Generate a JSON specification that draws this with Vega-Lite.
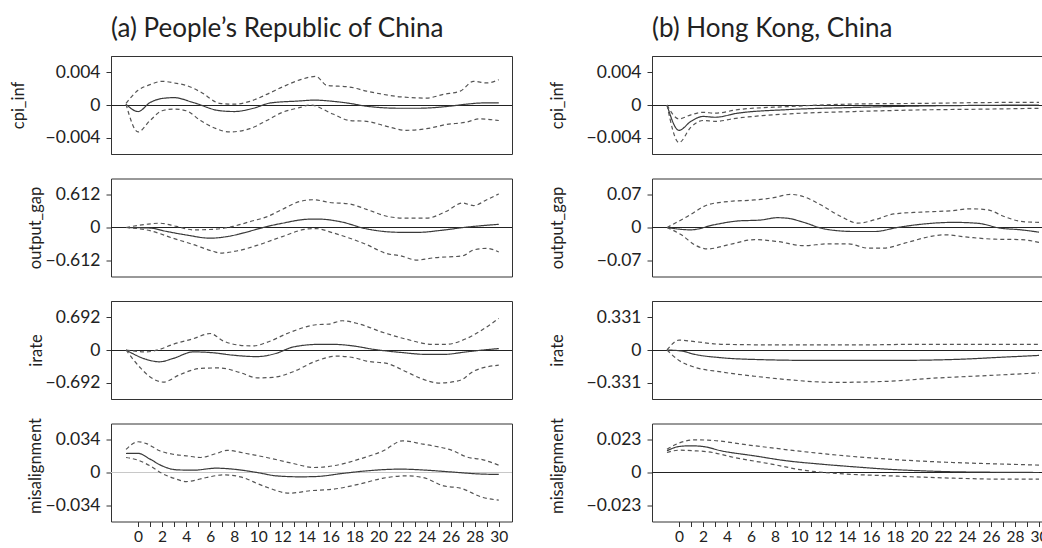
{
  "$schema": "https://vega.github.io/schema/vega-lite/v6.json",
  "padding": {"left": 9, "top": 15, "right": 0, "bottom": 0},
  "background": "white",
  "bounds": "flush",
  "columns": 2,
  "spacing": {"row": 24.5, "column": 140},
  "config": {
    "font": "Lato",
    "view": {"stroke": "#333", "strokeWidth": 1},
    "axis": {"labelFont": "Lato", "labelColor": "#222", "tickColor": "#333", "tickSize": 5, "grid": false, "titleFont": "Lato", "titleFontSize": 16.5, "titleFontWeight": "normal", "titleColor": "#222"},
    "axisY": {"labelFontSize": 17.5, "titleAngle": -90, "titleAlign": "center", "titleBaseline": "alphabetic", "labelPadding": 6, "domain": true, "domainColor": "#333", "domainWidth": 1, "format": ".3~f"},
    "axisX": {"labelFontSize": 15.5, "domain": false, "labelPadding": 3},
    "title": {"anchor": "start", "frame": "group", "fontSize": 26, "fontWeight": "normal", "color": "#222", "font": "Lato", "baseline": "alphabetic", "offset": 14},
    "line": {"interpolate": "monotone", "strokeWidth": 1.2},
    "rule": {"color": "#222", "strokeWidth": 1}
  },
  "datasets": {
    "a_cpi": [
      {"s":"m","x":-1,"y":0.0001},{"s":"m","x":0,"y":-0.0008},{"s":"m","x":1,"y":0.0003},{"s":"m","x":2,"y":0.0008},{"s":"m","x":3,"y":0.0009},{"s":"m","x":4.6,"y":0.0003},{"s":"m","x":6.8,"y":-0.0007},{"s":"m","x":8,"y":-0.0008},{"s":"m","x":9.6,"y":-0.0004},{"s":"m","x":11,"y":0.00025},{"s":"m","x":13.5,"y":0.0005},{"s":"m","x":14.6,"y":0.0006},{"s":"m","x":16.2,"y":0.00045},{"s":"m","x":17.6,"y":0.0002},{"s":"m","x":19,"y":-0.00015},{"s":"m","x":21.8,"y":-0.0004},{"s":"m","x":23.2,"y":-0.0004},{"s":"m","x":25.9,"y":-0.00015},{"s":"m","x":27.3,"y":0.0001},{"s":"m","x":28.7,"y":0.00025},{"s":"m","x":30,"y":0.00025},
      {"s":"hi","x":-1,"y":0.0002},{"s":"hi","x":0,"y":0.0018},{"s":"hi","x":1,"y":0.0025},{"s":"hi","x":2,"y":0.0029},{"s":"hi","x":3,"y":0.0027},{"s":"hi","x":4,"y":0.0024},{"s":"hi","x":5.2,"y":0.0016},{"s":"hi","x":6.8,"y":0.0002},{"s":"hi","x":8,"y":0.0001},{"s":"hi","x":9.3,"y":0.00045},{"s":"hi","x":10.7,"y":0.0013},{"s":"hi","x":12,"y":0.0022},{"s":"hi","x":13.5,"y":0.0031},{"s":"hi","x":14.8,"y":0.0035},{"s":"hi","x":15.7,"y":0.0024},{"s":"hi","x":17.6,"y":0.0022},{"s":"hi","x":19,"y":0.0017},{"s":"hi","x":20.4,"y":0.0013},{"s":"hi","x":21.8,"y":0.001},{"s":"hi","x":24,"y":0.00085},{"s":"hi","x":25.4,"y":0.0013},{"s":"hi","x":26.8,"y":0.0017},{"s":"hi","x":27.9,"y":0.0029},{"s":"hi","x":29,"y":0.0027},{"s":"hi","x":30,"y":0.0031},
      {"s":"lo","x":-1,"y":0.0001},{"s":"lo","x":0,"y":-0.0033},{"s":"lo","x":1,"y":-0.0019},{"s":"lo","x":2,"y":-0.0007},{"s":"lo","x":3,"y":-0.0005},{"s":"lo","x":4,"y":-0.0007},{"s":"lo","x":5.2,"y":-0.0019},{"s":"lo","x":6.5,"y":-0.0029},{"s":"lo","x":7.6,"y":-0.0033},{"s":"lo","x":9.3,"y":-0.0029},{"s":"lo","x":10.7,"y":-0.0019},{"s":"lo","x":12,"y":-0.0009},{"s":"lo","x":13.5,"y":-0.0003},{"s":"lo","x":14.3,"y":0},{"s":"lo","x":16.2,"y":-0.0011},{"s":"lo","x":17.6,"y":-0.0019},{"s":"lo","x":19,"y":-0.002},{"s":"lo","x":20.4,"y":-0.0025},{"s":"lo","x":22.3,"y":-0.0031},{"s":"lo","x":24,"y":-0.0029},{"s":"lo","x":25.6,"y":-0.0024},{"s":"lo","x":27.3,"y":-0.0021},{"s":"lo","x":28.4,"y":-0.0017},{"s":"lo","x":30,"y":-0.0019}
    ],
    "a_og": [
      {"s":"m","x":-1,"y":0},{"s":"m","x":1,"y":-0.01},{"s":"m","x":2.4,"y":-0.075},{"s":"m","x":4,"y":-0.14},{"s":"m","x":6,"y":-0.2},{"s":"m","x":7.4,"y":-0.17},{"s":"m","x":8.8,"y":-0.1},{"s":"m","x":10.4,"y":0},{"s":"m","x":12,"y":0.08},{"s":"m","x":14.3,"y":0.156},{"s":"m","x":15.1,"y":0.156},{"s":"m","x":16.8,"y":0.11},{"s":"m","x":19,"y":-0.025},{"s":"m","x":21.8,"y":-0.09},{"s":"m","x":23.4,"y":-0.09},{"s":"m","x":25.1,"y":-0.056},{"s":"m","x":27.3,"y":0.006},{"s":"m","x":30,"y":0.06},
      {"s":"hi","x":-1,"y":0},{"s":"hi","x":0.7,"y":0.06},{"s":"hi","x":1.8,"y":0.08},{"s":"hi","x":3.2,"y":0.02},{"s":"hi","x":4.6,"y":-0.044},{"s":"hi","x":6.5,"y":-0.03},{"s":"hi","x":7.9,"y":0.02},{"s":"hi","x":9.3,"y":0.11},{"s":"hi","x":10.7,"y":0.2},{"s":"hi","x":12,"y":0.34},{"s":"hi","x":13.5,"y":0.49},{"s":"hi","x":14.6,"y":0.52},{"s":"hi","x":15.9,"y":0.47},{"s":"hi","x":17.6,"y":0.44},{"s":"hi","x":19,"y":0.34},{"s":"hi","x":20.9,"y":0.2},{"s":"hi","x":22.3,"y":0.175},{"s":"hi","x":24,"y":0.175},{"s":"hi","x":25.6,"y":0.3},{"s":"hi","x":27,"y":0.46},{"s":"hi","x":27.9,"y":0.41},{"s":"hi","x":29,"y":0.52},{"s":"hi","x":30,"y":0.63},
      {"s":"lo","x":-1,"y":0},{"s":"lo","x":1,"y":-0.06},{"s":"lo","x":2.9,"y":-0.2},{"s":"lo","x":4.6,"y":-0.32},{"s":"lo","x":6.3,"y":-0.45},{"s":"lo","x":6.8,"y":-0.48},{"s":"lo","x":8.2,"y":-0.44},{"s":"lo","x":10.1,"y":-0.32},{"s":"lo","x":12,"y":-0.17},{"s":"lo","x":14,"y":-0.03},{"s":"lo","x":14.8,"y":-0.02},{"s":"lo","x":16.2,"y":-0.1},{"s":"lo","x":19,"y":-0.32},{"s":"lo","x":20.7,"y":-0.49},{"s":"lo","x":21.8,"y":-0.53},{"s":"lo","x":23.2,"y":-0.61},{"s":"lo","x":24.5,"y":-0.57},{"s":"lo","x":27,"y":-0.53},{"s":"lo","x":27.9,"y":-0.42},{"s":"lo","x":29,"y":-0.39},{"s":"lo","x":30,"y":-0.46}
    ],
    "a_ir": [
      {"s":"m","x":-1,"y":0},{"s":"m","x":0.7,"y":-0.2},{"s":"m","x":1.8,"y":-0.25},{"s":"m","x":2.9,"y":-0.18},{"s":"m","x":4.6,"y":-0.04},{"s":"m","x":6.3,"y":-0.06},{"s":"m","x":7.9,"y":-0.11},{"s":"m","x":9.9,"y":-0.14},{"s":"m","x":11.5,"y":-0.07},{"s":"m","x":12.9,"y":0.064},{"s":"m","x":15.1,"y":0.12},{"s":"m","x":16.2,"y":0.12},{"s":"m","x":17.9,"y":0.086},{"s":"m","x":19.6,"y":0.014},{"s":"m","x":21.8,"y":-0.05},{"s":"m","x":24,"y":-0.093},{"s":"m","x":25.4,"y":-0.093},{"s":"m","x":27.3,"y":-0.04},{"s":"m","x":28.7,"y":0},{"s":"m","x":30,"y":0.03},
      {"s":"hi","x":-1,"y":0},{"s":"hi","x":0.7,"y":-0.04},{"s":"hi","x":1.8,"y":0.014},{"s":"hi","x":2.9,"y":0.12},{"s":"hi","x":4.6,"y":0.24},{"s":"hi","x":6,"y":0.35},{"s":"hi","x":7.1,"y":0.19},{"s":"hi","x":8.5,"y":0.1},{"s":"hi","x":9.6,"y":0.086},{"s":"hi","x":10.7,"y":0.16},{"s":"hi","x":12.6,"y":0.37},{"s":"hi","x":14.8,"y":0.535},{"s":"hi","x":15.9,"y":0.55},{"s":"hi","x":17,"y":0.62},{"s":"hi","x":18.4,"y":0.55},{"s":"hi","x":20.4,"y":0.37},{"s":"hi","x":22.3,"y":0.23},{"s":"hi","x":24.5,"y":0.12},{"s":"hi","x":25.6,"y":0.12},{"s":"hi","x":27.3,"y":0.24},{"s":"hi","x":28.7,"y":0.44},{"s":"hi","x":30,"y":0.67},
      {"s":"lo","x":-1,"y":0},{"s":"lo","x":0.2,"y":-0.38},{"s":"lo","x":1,"y":-0.57},{"s":"lo","x":2.1,"y":-0.68},{"s":"lo","x":3.5,"y":-0.52},{"s":"lo","x":5.2,"y":-0.39},{"s":"lo","x":6.8,"y":-0.38},{"s":"lo","x":8.5,"y":-0.48},{"s":"lo","x":9.9,"y":-0.59},{"s":"lo","x":11.2,"y":-0.58},{"s":"lo","x":12.9,"y":-0.46},{"s":"lo","x":14.8,"y":-0.235},{"s":"lo","x":16.5,"y":-0.13},{"s":"lo","x":17.9,"y":-0.16},{"s":"lo","x":19,"y":-0.235},{"s":"lo","x":20.7,"y":-0.285},{"s":"lo","x":22.3,"y":-0.46},{"s":"lo","x":23.4,"y":-0.59},{"s":"lo","x":25.1,"y":-0.7},{"s":"lo","x":26.8,"y":-0.64},{"s":"lo","x":27.9,"y":-0.45},{"s":"lo","x":30,"y":-0.32}
    ],
    "a_mis": [
      {"s":"m","x":-1,"y":0.0198},{"s":"m","x":0,"y":0.02},{"s":"m","x":1,"y":0.0139},{"s":"m","x":2,"y":0.0069},{"s":"m","x":3.2,"y":0.0028},{"s":"m","x":4.6,"y":0.0024},{"s":"m","x":6.5,"y":0.0045},{"s":"m","x":7.9,"y":0.0035},{"s":"m","x":9.9,"y":0},{"s":"m","x":11.5,"y":-0.0035},{"s":"m","x":13.5,"y":-0.0045},{"s":"m","x":14.8,"y":-0.0042},{"s":"m","x":17,"y":-0.001},{"s":"m","x":19,"y":0.0017},{"s":"m","x":21.8,"y":0.0035},{"s":"m","x":24,"y":0.0024},{"s":"m","x":25.9,"y":0.0007},{"s":"m","x":28.7,"y":-0.0017},{"s":"m","x":30,"y":-0.002},
      {"s":"hi","x":-1,"y":0.024},{"s":"hi","x":0,"y":0.032},{"s":"hi","x":0.7,"y":0.03},{"s":"hi","x":1.8,"y":0.0226},{"s":"hi","x":2.9,"y":0.019},{"s":"hi","x":4,"y":0.0174},{"s":"hi","x":5.2,"y":0.0156},{"s":"hi","x":6.5,"y":0.0198},{"s":"hi","x":7.4,"y":0.023},{"s":"hi","x":9,"y":0.0198},{"s":"hi","x":10.7,"y":0.0156},{"s":"hi","x":12.9,"y":0.0094},{"s":"hi","x":14.6,"y":0.0052},{"s":"hi","x":16.2,"y":0.0069},{"s":"hi","x":18.4,"y":0.0139},{"s":"hi","x":20.4,"y":0.0226},{"s":"hi","x":22,"y":0.033},{"s":"hi","x":23.7,"y":0.0295},{"s":"hi","x":24.5,"y":0.0278},{"s":"hi","x":26.2,"y":0.0226},{"s":"hi","x":27.3,"y":0.0163},{"s":"hi","x":28.7,"y":0.0132},{"s":"hi","x":30,"y":0.0076},
      {"s":"lo","x":-1,"y":0.0156},{"s":"lo","x":0,"y":0.0128},{"s":"lo","x":1,"y":0.0069},{"s":"lo","x":2,"y":-0.001},{"s":"lo","x":3.2,"y":-0.0069},{"s":"lo","x":4,"y":-0.0094},{"s":"lo","x":5.7,"y":-0.0052},{"s":"lo","x":7.1,"y":-0.0024},{"s":"lo","x":8.5,"y":-0.0045},{"s":"lo","x":10.4,"y":-0.0139},{"s":"lo","x":12.6,"y":-0.0215},{"s":"lo","x":14.3,"y":-0.019},{"s":"lo","x":16.2,"y":-0.0174},{"s":"lo","x":18.4,"y":-0.0121},{"s":"lo","x":20.4,"y":-0.0059},{"s":"lo","x":22.3,"y":-0.0035},{"s":"lo","x":23.7,"y":-0.0052},{"s":"lo","x":25.4,"y":-0.0139},{"s":"lo","x":26.8,"y":-0.0163},{"s":"lo","x":28.7,"y":-0.026},{"s":"lo","x":30,"y":-0.0288}
    ],
    "b_cpi": [
      {"s":"m","x":-1,"y":0},{"s":"m","x":0,"y":-0.0031},{"s":"m","x":1,"y":-0.002},{"s":"m","x":2,"y":-0.0014},{"s":"m","x":3,"y":-0.0015},{"s":"m","x":4.9,"y":-0.001},{"s":"m","x":9,"y":-0.00057},{"s":"m","x":14.6,"y":-0.0003},{"s":"m","x":20.2,"y":-0.00012},{"s":"m","x":25.7,"y":-0.00004},{"s":"m","x":30,"y":0},
      {"s":"hi","x":-1,"y":0},{"s":"hi","x":0,"y":-0.0017},{"s":"hi","x":1,"y":-0.0012},{"s":"hi","x":2,"y":-0.0009},{"s":"hi","x":3,"y":-0.001},{"s":"hi","x":4.9,"y":-0.00057},{"s":"hi","x":9,"y":-0.0002},{"s":"hi","x":14.6,"y":0.00012},{"s":"hi","x":20.2,"y":0.0002},{"s":"hi","x":25.7,"y":0.0003},{"s":"hi","x":30,"y":0.00033},
      {"s":"lo","x":-1,"y":0},{"s":"lo","x":0,"y":-0.0046},{"s":"lo","x":1,"y":-0.0027},{"s":"lo","x":2,"y":-0.0019},{"s":"lo","x":3,"y":-0.002},{"s":"lo","x":4.9,"y":-0.0016},{"s":"lo","x":9,"y":-0.0011},{"s":"lo","x":14.6,"y":-0.0008},{"s":"lo","x":20.2,"y":-0.0006},{"s":"lo","x":25.7,"y":-0.0005},{"s":"lo","x":30,"y":-0.0004}
    ],
    "b_og": [
      {"s":"m","x":-1,"y":0},{"s":"m","x":1,"y":-0.005},{"s":"m","x":2.9,"y":0.0057},{"s":"m","x":4.9,"y":0.014},{"s":"m","x":6.8,"y":0.016},{"s":"m","x":8.2,"y":0.021},{"s":"m","x":9,"y":0.02},{"s":"m","x":10.4,"y":0.011},{"s":"m","x":12.1,"y":-0.003},{"s":"m","x":14.6,"y":-0.0086},{"s":"m","x":16.3,"y":-0.0086},{"s":"m","x":18.2,"y":0},{"s":"m","x":20.2,"y":0.007},{"s":"m","x":22.9,"y":0.011},{"s":"m","x":24.9,"y":0.009},{"s":"m","x":26.8,"y":-0.0014},{"s":"m","x":28.5,"y":-0.005},{"s":"m","x":30,"y":-0.01},
      {"s":"hi","x":-1,"y":0},{"s":"hi","x":0.7,"y":0.0236},{"s":"hi","x":2.4,"y":0.0486},{"s":"hi","x":4.1,"y":0.0557},{"s":"hi","x":6.3,"y":0.059},{"s":"hi","x":7.9,"y":0.064},{"s":"hi","x":9.3,"y":0.071},{"s":"hi","x":10.4,"y":0.066},{"s":"hi","x":11.8,"y":0.0486},{"s":"hi","x":13.5,"y":0.0236},{"s":"hi","x":14.9,"y":0.0093},{"s":"hi","x":16.3,"y":0.0164},{"s":"hi","x":17.9,"y":0.029},{"s":"hi","x":20.2,"y":0.033},{"s":"hi","x":22.7,"y":0.036},{"s":"hi","x":24.3,"y":0.04},{"s":"hi","x":25.7,"y":0.038},{"s":"hi","x":27.1,"y":0.0236},{"s":"hi","x":28.5,"y":0.013},{"s":"hi","x":30,"y":0.011},
      {"s":"lo","x":-1,"y":0},{"s":"lo","x":0.2,"y":-0.0157},{"s":"lo","x":1.3,"y":-0.037},{"s":"lo","x":2.4,"y":-0.046},{"s":"lo","x":4.1,"y":-0.037},{"s":"lo","x":6.3,"y":-0.026},{"s":"lo","x":8.2,"y":-0.03},{"s":"lo","x":10.4,"y":-0.039},{"s":"lo","x":12.4,"y":-0.035},{"s":"lo","x":14.1,"y":-0.035},{"s":"lo","x":15.7,"y":-0.044},{"s":"lo","x":17.1,"y":-0.044},{"s":"lo","x":18.8,"y":-0.0336},{"s":"lo","x":21,"y":-0.019},{"s":"lo","x":22.1,"y":-0.0157},{"s":"lo","x":24.3,"y":-0.0214},{"s":"lo","x":26.3,"y":-0.025},{"s":"lo","x":28.5,"y":-0.026},{"s":"lo","x":30,"y":-0.032}
    ],
    "b_ir": [
      {"s":"m","x":-1,"y":0},{"s":"m","x":0.2,"y":-0.01},{"s":"m","x":1.3,"y":-0.044},{"s":"m","x":3.5,"y":-0.078},{"s":"m","x":6.3,"y":-0.096},{"s":"m","x":11.8,"y":-0.106},{"s":"m","x":17.4,"y":-0.106},{"s":"m","x":22.9,"y":-0.096},{"s":"m","x":27.1,"y":-0.072},{"s":"m","x":30,"y":-0.055},
      {"s":"hi","x":-1,"y":0},{"s":"hi","x":0,"y":0.1},{"s":"hi","x":1.3,"y":0.085},{"s":"hi","x":3.5,"y":0.058},{"s":"hi","x":9,"y":0.051},{"s":"hi","x":14.6,"y":0.051},{"s":"hi","x":20.2,"y":0.058},{"s":"hi","x":25.7,"y":0.058},{"s":"hi","x":30,"y":0.058},
      {"s":"lo","x":-1,"y":0},{"s":"lo","x":0,"y":-0.106},{"s":"lo","x":1.3,"y":-0.174},{"s":"lo","x":3.5,"y":-0.222},{"s":"lo","x":6.3,"y":-0.266},{"s":"lo","x":9,"y":-0.3},{"s":"lo","x":12.9,"y":-0.328},{"s":"lo","x":17.4,"y":-0.317},{"s":"lo","x":21.6,"y":-0.283},{"s":"lo","x":25.7,"y":-0.259},{"s":"lo","x":30,"y":-0.232}
    ],
    "b_mis": [
      {"s":"m","x":-1,"y":0.0153},{"s":"m","x":0,"y":0.0183},{"s":"m","x":1,"y":0.0188},{"s":"m","x":2,"y":0.0183},{"s":"m","x":3.5,"y":0.0153},{"s":"m","x":6.3,"y":0.0117},{"s":"m","x":9,"y":0.0082},{"s":"m","x":11.8,"y":0.0059},{"s":"m","x":14.6,"y":0.004},{"s":"m","x":17.4,"y":0.0023},{"s":"m","x":20.2,"y":0.0012},{"s":"m","x":22.9,"y":0.0005},{"s":"m","x":30,"y":0},
      {"s":"hi","x":-1,"y":0.0164},{"s":"hi","x":0,"y":0.0207},{"s":"hi","x":1.3,"y":0.023},{"s":"hi","x":2.4,"y":0.0228},{"s":"hi","x":6.3,"y":0.0188},{"s":"hi","x":11.8,"y":0.0134},{"s":"hi","x":17.4,"y":0.0094},{"s":"hi","x":22.9,"y":0.007},{"s":"hi","x":27.1,"y":0.0059},{"s":"hi","x":30,"y":0.0052},
      {"s":"lo","x":-1,"y":0.0141},{"s":"lo","x":0,"y":0.0157},{"s":"lo","x":1.3,"y":0.0153},{"s":"lo","x":2.4,"y":0.0146},{"s":"lo","x":4.6,"y":0.0106},{"s":"lo","x":7.7,"y":0.0059},{"s":"lo","x":10.4,"y":0.0016},{"s":"lo","x":13.2,"y":-0.0007},{"s":"lo","x":17.4,"y":-0.0023},{"s":"lo","x":22.9,"y":-0.004},{"s":"lo","x":27.1,"y":-0.0047},{"s":"lo","x":30,"y":-0.0047}
    ]
  },
  "concat": [
    {
      "title": {"text": "(a) People’s Republic of China"},
      "width": 401, "height": 98, "data": {"name": "a_cpi"},
      "layer": [
        {"mark": {"type": "rule", "yOffset": 0.5}, "encoding": {"y": {"datum": 0, "type": "quantitative"}}},
        {"mark": {"type": "line"}, "encoding": {
          "x": {"field": "x", "type": "quantitative", "scale": {"domain": [-2.25, 31.1], "nice": false, "zero": false}, "axis": null},
          "y": {"field": "y", "type": "quantitative", "scale": {"domain": [-0.006, 0.006], "nice": false}, "axis": {"values": [-0.004, 0, 0.004], "title": "cpi_inf", "titleX": -88}},
          "color": {"field": "s", "type": "nominal", "scale": {"domain": ["m", "lo", "hi"], "range": ["#3a3a3a", "#555555", "#555555"]}, "legend": null},
          "strokeDash": {"field": "s", "type": "nominal", "scale": {"domain": ["m", "lo", "hi"], "range": [[1, 0], [4, 3], [4, 3]]}, "legend": null}
        }}
      ]
    },
    {
      "title": {"text": "(b) Hong Kong, China"},
      "width": 390, "height": 98, "data": {"name": "b_cpi"},
      "layer": [
        {"mark": {"type": "rule", "yOffset": 0.5}, "encoding": {"y": {"datum": 0, "type": "quantitative"}}},
        {"mark": {"type": "line"}, "encoding": {
          "x": {"field": "x", "type": "quantitative", "scale": {"domain": [-2.25, 30.25], "nice": false, "zero": false}, "axis": null},
          "y": {"field": "y", "type": "quantitative", "scale": {"domain": [-0.006, 0.006], "nice": false}, "axis": {"values": [-0.004, 0, 0.004], "title": "cpi_inf", "titleX": -90}},
          "color": {"field": "s", "type": "nominal", "scale": {"domain": ["m", "lo", "hi"], "range": ["#3a3a3a", "#555555", "#555555"]}, "legend": null},
          "strokeDash": {"field": "s", "type": "nominal", "scale": {"domain": ["m", "lo", "hi"], "range": [[1, 0], [4, 3], [4, 3]]}, "legend": null}
        }}
      ]
    },
    {
      "width": 401, "height": 98, "data": {"name": "a_og"},
      "layer": [
        {"mark": {"type": "rule"}, "encoding": {"y": {"datum": 0, "type": "quantitative"}}},
        {"mark": {"type": "line"}, "encoding": {
          "x": {"field": "x", "type": "quantitative", "scale": {"domain": [-2.25, 31.1], "nice": false, "zero": false}, "axis": null},
          "y": {"field": "y", "type": "quantitative", "scale": {"domain": [-0.918, 0.918], "nice": false}, "axis": {"values": [-0.612, 0, 0.612], "title": "output_gap", "titleX": -71}},
          "color": {"field": "s", "type": "nominal", "scale": {"domain": ["m", "lo", "hi"], "range": ["#3a3a3a", "#555555", "#555555"]}, "legend": null},
          "strokeDash": {"field": "s", "type": "nominal", "scale": {"domain": ["m", "lo", "hi"], "range": [[1, 0], [4, 3], [4, 3]]}, "legend": null}
        }}
      ]
    },
    {
      "width": 390, "height": 98, "data": {"name": "b_og"},
      "layer": [
        {"mark": {"type": "rule"}, "encoding": {"y": {"datum": 0, "type": "quantitative"}}},
        {"mark": {"type": "line"}, "encoding": {
          "x": {"field": "x", "type": "quantitative", "scale": {"domain": [-2.25, 30.25], "nice": false, "zero": false}, "axis": null},
          "y": {"field": "y", "type": "quantitative", "scale": {"domain": [-0.105, 0.105], "nice": false}, "axis": {"values": [-0.07, 0, 0.07], "title": "output_gap", "titleX": -90}},
          "color": {"field": "s", "type": "nominal", "scale": {"domain": ["m", "lo", "hi"], "range": ["#3a3a3a", "#555555", "#555555"]}, "legend": null},
          "strokeDash": {"field": "s", "type": "nominal", "scale": {"domain": ["m", "lo", "hi"], "range": [[1, 0], [4, 3], [4, 3]]}, "legend": null}
        }}
      ]
    },
    {
      "width": 401, "height": 98, "data": {"name": "a_ir"},
      "layer": [
        {"mark": {"type": "rule", "yOffset": 0.5}, "encoding": {"y": {"datum": 0, "type": "quantitative"}}},
        {"mark": {"type": "line"}, "encoding": {
          "x": {"field": "x", "type": "quantitative", "scale": {"domain": [-2.25, 31.1], "nice": false, "zero": false}, "axis": null},
          "y": {"field": "y", "type": "quantitative", "scale": {"domain": [-1.038, 1.038], "nice": false}, "axis": {"values": [-0.692, 0, 0.692], "title": "irate", "titleX": -70}},
          "color": {"field": "s", "type": "nominal", "scale": {"domain": ["m", "lo", "hi"], "range": ["#3a3a3a", "#555555", "#555555"]}, "legend": null},
          "strokeDash": {"field": "s", "type": "nominal", "scale": {"domain": ["m", "lo", "hi"], "range": [[1, 0], [4, 3], [4, 3]]}, "legend": null}
        }}
      ]
    },
    {
      "width": 390, "height": 98, "data": {"name": "b_ir"},
      "layer": [
        {"mark": {"type": "rule", "yOffset": 0.5}, "encoding": {"y": {"datum": 0, "type": "quantitative"}}},
        {"mark": {"type": "line"}, "encoding": {
          "x": {"field": "x", "type": "quantitative", "scale": {"domain": [-2.25, 30.25], "nice": false, "zero": false}, "axis": null},
          "y": {"field": "y", "type": "quantitative", "scale": {"domain": [-0.4965, 0.4965], "nice": false}, "axis": {"values": [-0.331, 0, 0.331], "title": "irate", "titleX": -90}},
          "color": {"field": "s", "type": "nominal", "scale": {"domain": ["m", "lo", "hi"], "range": ["#3a3a3a", "#555555", "#555555"]}, "legend": null},
          "strokeDash": {"field": "s", "type": "nominal", "scale": {"domain": ["m", "lo", "hi"], "range": [[1, 0], [4, 3], [4, 3]]}, "legend": null}
        }}
      ]
    },
    {
      "width": 401, "height": 98, "data": {"name": "a_mis"},
      "layer": [
        {"mark": {"type": "rule", "color": "#c8c8c8"}, "encoding": {"y": {"datum": 0, "type": "quantitative"}}},
        {"mark": {"type": "line"}, "encoding": {
          "x": {"field": "x", "type": "quantitative", "scale": {"domain": [-2.25, 31.1], "nice": false, "zero": false}, "axis": {"values": [0,1,2,3,4,5,6,7,8,9,10,11,12,13,14,15,16,17,18,19,20,21,22,23,24,25,26,27,28,29,30], "labelExpr": "datum.value % 2 === 0 ? datum.label : ''", "title": null}},
          "y": {"field": "y", "type": "quantitative", "scale": {"domain": [-0.051, 0.051], "nice": false}, "axis": {"values": [-0.034, 0, 0.034], "title": "misalignment", "titleX": -71, "titleY": 42}},
          "color": {"field": "s", "type": "nominal", "scale": {"domain": ["m", "lo", "hi"], "range": ["#3a3a3a", "#555555", "#555555"]}, "legend": null},
          "strokeDash": {"field": "s", "type": "nominal", "scale": {"domain": ["m", "lo", "hi"], "range": [[1, 0], [4, 3], [4, 3]]}, "legend": null}
        }}
      ]
    },
    {
      "width": 390, "height": 98, "data": {"name": "b_mis"},
      "layer": [
        {"mark": {"type": "rule"}, "encoding": {"y": {"datum": 0, "type": "quantitative"}}},
        {"mark": {"type": "line"}, "encoding": {
          "x": {"field": "x", "type": "quantitative", "scale": {"domain": [-2.25, 30.25], "nice": false, "zero": false}, "axis": {"values": [0,1,2,3,4,5,6,7,8,9,10,11,12,13,14,15,16,17,18,19,20,21,22,23,24,25,26,27,28,29,30], "labelExpr": "datum.value % 2 === 0 ? datum.label : ''", "title": null}},
          "y": {"field": "y", "type": "quantitative", "scale": {"domain": [-0.0345, 0.0345], "nice": false}, "axis": {"values": [-0.023, 0, 0.023], "title": "misalignment", "titleX": -90, "titleY": 42}},
          "color": {"field": "s", "type": "nominal", "scale": {"domain": ["m", "lo", "hi"], "range": ["#3a3a3a", "#555555", "#555555"]}, "legend": null},
          "strokeDash": {"field": "s", "type": "nominal", "scale": {"domain": ["m", "lo", "hi"], "range": [[1, 0], [4, 3], [4, 3]]}, "legend": null}
        }}
      ]
    }
  ]
}
